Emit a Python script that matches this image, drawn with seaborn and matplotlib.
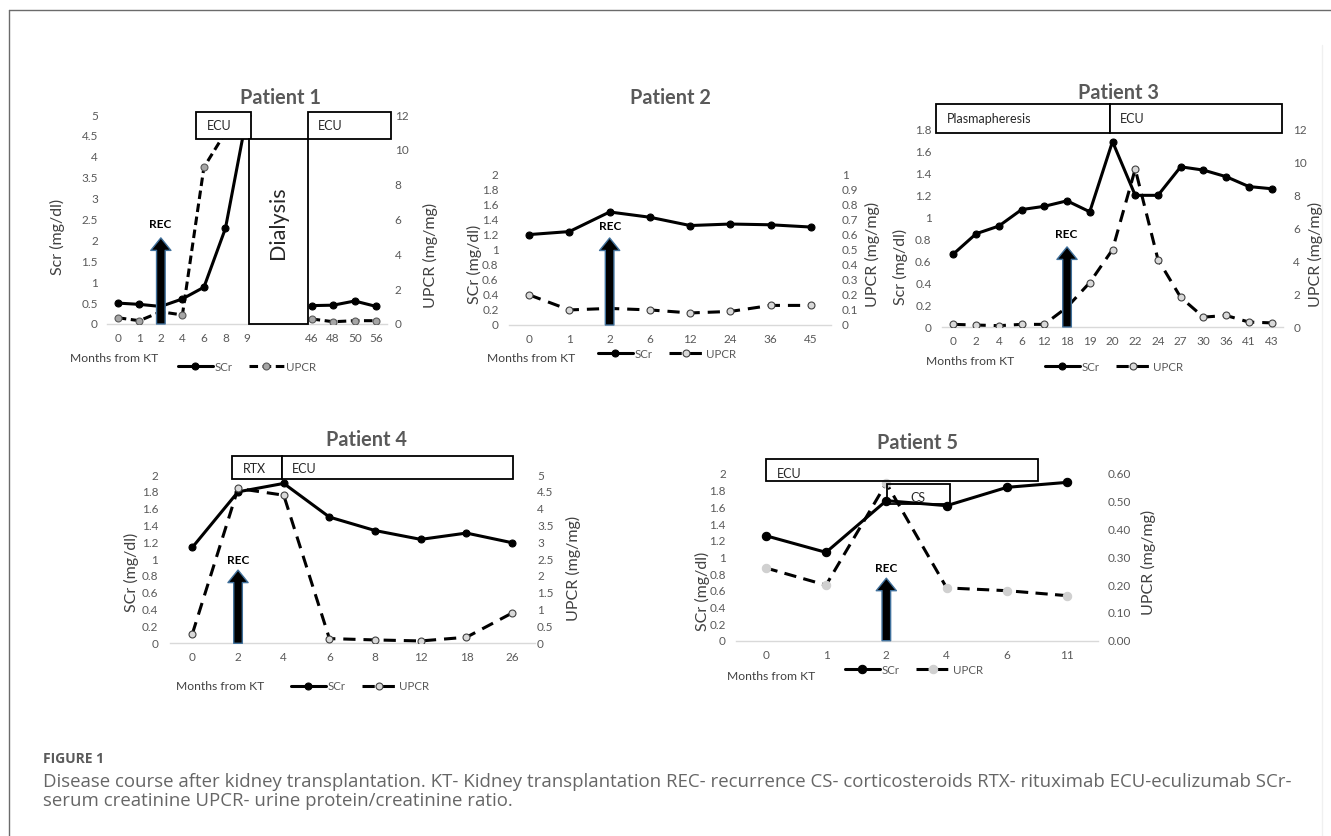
import numpy as np
import pandas as pd
import matplotlib
matplotlib.use("Agg")
import matplotlib.pyplot as plt
import seaborn as sns
from matplotlib.patches import Rectangle
from matplotlib.lines import Line2D

# ---------------- data ----------------
p1_months = ["0", "1", "2", "4", "6", "8", "9", "", "", "46", "48", "50", "56"]
p1_scr = [0.50, 0.47, 0.42, 0.60, 0.88, 2.29, 5.0, None, None, 0.44, 0.45, 0.55, 0.42]
p1_upcr = [0.36, 0.19, 0.70, 0.52, 9.0, 11.0, None, None, None, 0.29, 0.13, 0.19, 0.19]

p2_months = ["0", "1", "2", "6", "12", "24", "36", "45"]
p2_scr = [1.20, 1.24, 1.50, 1.43, 1.32, 1.34, 1.33, 1.30]
p2_upcr = [0.20, 0.10, 0.11, 0.10, 0.08, 0.09, 0.13, 0.13]

p3_months = ["0", "2", "4", "6", "12", "18", "19", "20", "22", "24", "27", "30", "36", "41", "43"]
p3_scr = [0.665, 0.85, 0.92, 1.07, 1.10, 1.15, 1.05, 1.69, 1.20, 1.20, 1.46, 1.43, 1.37, 1.28, 1.26]
p3_upcr = [0.16, 0.12, 0.08, 0.16, 0.16, 1.2, 2.7, 4.7, 9.6, 4.1, 1.8, 0.6, 0.7, 0.3, 0.25]

p4_months = ["0", "2", "4", "6", "8", "12", "18", "26"]
p4_scr = [1.14, 1.80, 1.90, 1.50, 1.34, 1.235, 1.31, 1.195]
p4_upcr = [0.28, 4.6, 4.4, 0.14, 0.10, 0.07, 0.18, 0.90]

p5_months = ["0", "1", "2", "4", "6", "11"]
p5_scr = [1.26, 1.06, 1.68, 1.62, 1.84, 1.90]
p5_upcr = [0.262, 0.20, 0.567, 0.19, 0.18, 0.162]

caption_title = "FIGURE 1"
caption_lines = [
    "Disease course after kidney transplantation. KT- Kidney transplantation REC- recurrence CS- corticosteroids RTX- rituximab ECU-eculizumab SCr-",
    "serum creatinine UPCR- urine protein/creatinine ratio.",
]

# ---------------- setup ----------------
sns.set_style("white")
plt.rcParams["font.family"] = ["Lato", "DejaVu Sans"]

W, H = 1331, 836
fig = plt.figure(figsize=(W / 100, H / 100), dpi=100)
fig.patch.set_facecolor("white")

TICK_C = "#595959"
LAB_C = "#404040"
TICK_FS = 8.5


def rect_frac(x0, y0, x1, y1):
    return [x0 / W, 1 - y1 / H, (x1 - x0) / W, (y1 - y0) / H]


def fp(x, y):
    return (x / W, 1 - y / H)


def ftext(x, y, s, **kw):
    kw.setdefault("color", LAB_C)
    return fig.text(x / W, 1 - y / H, s, **kw)


def fbox(x0, y0, x1, y1, fill=True, lw=1.3):
    r = Rectangle(fp(x0, y1), (x1 - x0) / W, (y1 - y0) / H, transform=fig.transFigure,
                  facecolor="white" if fill else "none", edgecolor="black", lw=lw, zorder=2)
    fig.add_artist(r)


def gfmt(v):
    return f"{v:g}"


def panel(area, months, scr, upcr, ylim, ystep, y2lim, y2step, y2fmt, segs_scr, segs_upcr,
          rec_idx, rec_tip, upcr_fc, upcr_ec, msize, dash, lpad=7.5, rpad=7.5):
    n = len(months)
    ax = fig.add_axes(rect_frac(*area))
    ax2 = ax.twinx()
    df = pd.DataFrame({"pos": np.arange(n), "SCr": pd.array(scr, dtype="Float64").astype(float),
                       "UPCR": pd.array(upcr, dtype="Float64").astype(float)})
    scr_line = upcr_line = None
    for a, b in segs_scr:
        sub = df.iloc[a:b].dropna(subset=["SCr"])
        sns.lineplot(data=sub, x="pos", y="SCr", ax=ax, color="black", linewidth=2.2,
                     marker="o", markersize=msize, markeredgecolor="black", markeredgewidth=0.8,
                     errorbar=None)
        scr_line = ax.lines[-1]
    for a, b in segs_upcr:
        sub = df.iloc[a:b].dropna(subset=["UPCR"])
        sns.lineplot(data=sub, x="pos", y="UPCR", ax=ax2, color="black", linewidth=2.2,
                     linestyle=(0, dash), marker="o", markersize=msize,
                     markerfacecolor=upcr_fc, markeredgecolor=upcr_ec, markeredgewidth=0.8,
                     errorbar=None)
        upcr_line = ax2.lines[-1]
    ax.set_xlim(-0.5, n - 0.5)
    ax.set_ylim(*ylim)
    ax2.set_ylim(*y2lim)
    yt = np.round(np.arange(ylim[0], ylim[1] + 1e-9, ystep), 4)
    y2t = np.round(np.arange(y2lim[0], y2lim[1] + 1e-9, y2step), 4)
    ax.set_yticks(yt)
    ax.set_yticklabels([gfmt(v) for v in yt])
    ax2.set_yticks(y2t)
    ax2.set_yticklabels([y2fmt(v) for v in y2t])
    ax.set_xticks(np.arange(n))
    ax.set_xticklabels(months)
    for a in (ax, ax2):
        a.set_xlabel("")
        a.set_ylabel("")
        a.set_facecolor("none")
        for s in a.spines.values():
            s.set_visible(False)
        a.grid(False)
    ax.spines["bottom"].set_visible(True)
    ax.spines["bottom"].set_color("#d9d9d9")
    ax.spines["bottom"].set_linewidth(1.0)
    ax.tick_params(axis="x", length=0, pad=6.5, labelsize=TICK_FS, labelcolor=TICK_C)
    ax.tick_params(axis="y", length=0, pad=lpad, labelsize=TICK_FS, labelcolor=TICK_C)
    ax2.tick_params(axis="y", length=0, pad=rpad, labelsize=TICK_FS, labelcolor=TICK_C)
    # recurrence arrow
    ax2.annotate("", xy=(rec_idx, rec_tip), xycoords=ax.transData,
                 xytext=(rec_idx, ylim[0]), textcoords=ax.transData,
                 arrowprops=dict(arrowstyle="simple,head_length=0.9,head_width=1.45,tail_width=0.62",
                                 fc="black", ec="#41719C", lw=1.0, shrinkA=0, shrinkB=0,
                                 mutation_scale=10),
                 zorder=6, annotation_clip=False)
    return ax, ax2, scr_line, upcr_line


def legend(handles, x, y):
    fig.legend(handles=handles, labels=["SCr", "UPCR"], loc="center left",
               bbox_to_anchor=fp(x, y), bbox_transform=fig.transFigure, ncol=2,
               frameon=False, fontsize=8.3, handlelength=3.0, handletextpad=0.2,
               columnspacing=1.4, borderpad=0, borderaxespad=0, labelcolor=TICK_C)


TITLE_KW = dict(fontsize=14.3, fontweight="bold", color="#595959", ha="center", va="center")
REC_KW = dict(fontsize=8.5, fontweight="bold", color="black", ha="center", va="center")
YL_KW = dict(fontsize=11.5, rotation=90, ha="center", va="center")
MKT_KW = dict(fontsize=8.7, ha="left", va="center")
BOX_KW = dict(fontsize=9, color="#262626", ha="left", va="center")

# ---------------- Patient 1 ----------------
ax, ax2, l1, l2 = panel((107, 115, 387, 324), p1_months, p1_scr, p1_upcr, (0, 5), 0.5, (0, 12), 2, gfmt,
                        [(0, 7), (9, 13)], [(0, 6), (9, 13)], 2, 2.06,
                        "#a6a6a6", "#595959", 5, (2.8, 1.5), lpad=6.5, rpad=5.5)
legend([l1, l2], 178, 367)
fbox(196, 112, 251, 139)
fbox(249, 139, 308, 324)
fbox(308, 112, 391, 139)
ftext(207, 126, "ECU", **BOX_KW)
ftext(318, 126, "ECU", **BOX_KW)
ftext(278, 223, "Dialysis", fontsize=15.5, rotation=90, ha="center", va="center", color="#262626")
ftext(280, 98, "Patient 1", **TITLE_KW)
ftext(160, 225, "REC", **REC_KW)
ftext(57, 237, "Scr (mg/dl)", **YL_KW)
ftext(430, 255, "UPCR (mg/mg)", **YL_KW)
ftext(70, 359, "Months from KT", **MKT_KW)

# ---------------- Patient 2 ----------------
ax, ax2, l1, l2 = panel((509, 174.3, 831, 325), p2_months, p2_scr, p2_upcr, (0, 2), 0.2, (0, 1), 0.1, gfmt,
                        [(0, 8)], [(0, 8)], 2, 1.155,
                        "#d9d9d9", "#404040", 5, (4, 2.6), lpad=7.5, rpad=8)
legend([l1, l2], 598, 354)
ftext(670, 98, "Patient 2", **TITLE_KW)
ftext(610, 226, "REC", **REC_KW)
ftext(474, 264, "SCr (mg/dl)", **YL_KW)
ftext(872, 254, "UPCR (mg/mg)", **YL_KW)
ftext(900, 267, "Scr (mg/dl)", **YL_KW)
ftext(487, 359, "Months from KT", **MKT_KW)

# ---------------- Patient 3 ----------------
ax, ax2, l1, l2 = panel((942, 129.5, 1283, 327), p3_months, p3_scr, p3_upcr, (0, 1.8), 0.2, (0, 12), 2, gfmt,
                        [(0, 15)], [(0, 15)], 5, 0.73,
                        "#d9d9d9", "#404040", 5, (4, 2.6), lpad=7.5, rpad=7.5)
legend([l1, l2], 1045, 367)
fbox(936, 104, 1110, 133)
fbox(1110, 104, 1282, 133)
ftext(947, 119, "Plasmapheresis", **BOX_KW)
ftext(1120, 119, "ECU", **BOX_KW)
ftext(1118, 93, "Patient 3", **TITLE_KW)
ftext(1066, 234, "REC", **REC_KW)
ftext(1315, 254, "UPCR (mg/mg)", **YL_KW)
ftext(926, 361, "Months from KT", **MKT_KW)

# ---------------- Patient 4 ----------------
ax, ax2, l1, l2 = panel((169.5, 475, 535, 643.3), p4_months, p4_scr, p4_upcr, (0, 2), 0.2, (0, 5), 0.5, gfmt,
                        [(0, 8)], [(0, 8)], 1, 0.87,
                        "#d9d9d9", "#404040", 5, (4, 2.6), lpad=8, rpad=1.5)
legend([l1, l2], 291, 687)
fbox(232, 456, 282, 479)
fbox(282, 456, 513, 479)
ftext(243, 469, "RTX", **BOX_KW)
ftext(292, 469, "ECU", **BOX_KW)
ftext(367, 440, "Patient 4", **TITLE_KW)
ftext(238, 561, "REC", **REC_KW)
ftext(131, 572, "SCr (mg/dl)", **YL_KW)
ftext(573, 568, "UPCR (mg/mg)", **YL_KW)
ftext(176, 687, "Months from KT", **MKT_KW)

# ---------------- Patient 5 ----------------
ax, ax2, l1, l2 = panel((735.5, 474, 1097.5, 640.7), p5_months, p5_scr, p5_upcr, (0, 2), 0.2, (0, 0.6), 0.1,
                        lambda v: f"{v:.2f}",
                        [(0, 6)], [(0, 6)], 2, 0.75,
                        "#d0d0d0", "#d0d0d0", 6, (4, 2.4), lpad=7, rpad=7.5)
legend([l1, l2], 845, 670)
fbox(766, 459, 1038, 481, fill=False)
fbox(887, 484, 950, 504, fill=False)
ftext(777, 474, "ECU", **BOX_KW)
ftext(918, 498, "CS", fontsize=9, color="#262626", ha="center", va="center")
ftext(918, 443, "Patient 5", **TITLE_KW)
ftext(886, 568, "REC", **REC_KW)
ftext(702, 591, "SCr (mg/dl)", **YL_KW)
ftext(1148, 562, "UPCR (mg/mg)", **YL_KW)
ftext(727, 676, "Months from KT", **MKT_KW)

# ---------------- frame & caption ----------------
fig.add_artist(Line2D([9 / W, 1], [1 - 10 / H, 1 - 10 / H], transform=fig.transFigure, color="#6b6b6b", lw=1))
fig.add_artist(Line2D([9 / W, 9 / W], [0, 1 - 10 / H], transform=fig.transFigure, color="#6b6b6b", lw=1))
fig.add_artist(Line2D([1322 / W, 1322 / W], [0, 1 - 45 / H], transform=fig.transFigure, color="#f0f0f0", lw=1))

fig.text(43 / W, 1 - 759 / H, caption_title, fontsize=10, fontweight="bold", color="#5a5a5a",
         family=["Open Sans", "DejaVu Sans"], ha="left", va="center")
for i, line in enumerate(caption_lines):
    fig.text(43 / W, 1 - (782 + 19 * i) / H, line, fontsize=13.4, color="#666666",
             family=["Open Sans", "DejaVu Sans"], ha="left", va="center")

fig.savefig("out.png", dpi=100, facecolor="white")
